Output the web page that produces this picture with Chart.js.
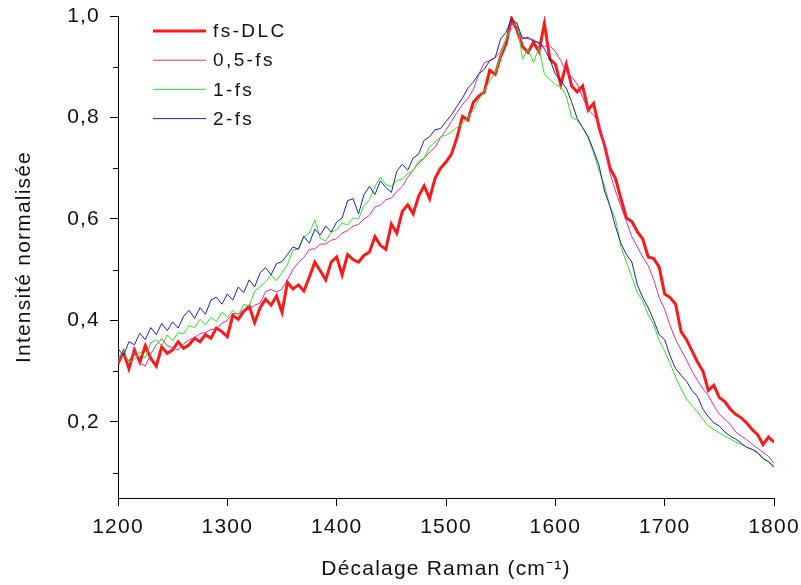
<!DOCTYPE html>
<html><head><meta charset="utf-8">
<script src="https://cdn.jsdelivr.net/npm/chart.js@4"></script>
<style>html,body{margin:0;padding:0;background:#fff}#wrap{width:801px;height:585px}</style>
</head><body><div id="wrap"><canvas id="c" width="801" height="585"></canvas></div>
<script>
// Raman shift grid (cm-1): 1200 to 1800, sampled every 5 cm-1
const ramanStart = 1200, ramanStep = 5;

const seriesLabels = ['fs-DLC', '0,5-fs', '1-fs', '2-fs'];

const fsDLC = [
.315,.338,.305,.342,.318,.350,.325,.310,.348,.335,
.342,.358,.345,.352,.365,.358,.372,.365,.385,.378,
.368,.410,.402,.418,.428,.396,.425,.442,.430,.448,
.416,.475,.462,.470,.458,.485,.515,.498,.480,.515,
.525,.490,.530,.520,.515,.528,.535,.565,.548,.540,
.590,.572,.615,.628,.610,.645,.665,.640,.680,.700,
.712,.728,.760,.802,.795,.830,.842,.850,.893,.885,
.920,.945,.995,.972,.940,.928,.948,.930,.985,.915,
.905,.865,.905,.862,.850,.862,.815,.828,.780,.745,
.700,.680,.640,.602,.595,.575,.560,.525,.522,.505,
.452,.445,.432,.378,.362,.340,.318,.300,.262,.272,
.248,.240,.225,.215,.208,.198,.185,.175,.155,.170,
.160];

const fs05 = [
.318,.334,.320,.338,.316,.310,.334,.352,.364,.350,
.346,.342,.354,.362,.366,.374,.376,.382,.384,.394,
.400,.414,.413,.420,.421,.430,.434,.457,.461,.456,
.462,.480,.500,.514,.524,.540,.541,.550,.551,.558,
.561,.572,.577,.586,.589,.600,.607,.624,.627,.638,
.641,.654,.664,.682,.697,.710,.719,.732,.741,.760,
.775,.792,.810,.825,.838,.855,.885,.908,.912,.918,
.930,.955,.985,.972,.958,.955,.954,.945,.940,.942,
.930,.912,.890,.880,.866,.840,.815,.805,.790,.745,
.690,.655,.625,.595,.565,.545,.525,.508,.480,.445,
.422,.390,.362,.342,.322,.300,.282,.265,.252,.232,
.215,.205,.195,.180,.172,.165,.156,.148,.140,.132,
.118];

const fs1 = [
.325,.340,.318,.322,.338,.326,.356,.362,.350,.372,
.360,.376,.374,.390,.386,.402,.392,.406,.398,.416,
.406,.420,.410,.432,.428,.458,.466,.476,.490,.478,
.494,.510,.538,.542,.565,.572,.598,.562,.556,.574,
.578,.592,.588,.602,.600,.626,.638,.664,.682,.668,
.664,.676,.678,.690,.695,.714,.720,.742,.752,.762,
.765,.772,.780,.788,.800,.815,.835,.852,.872,.888,
.920,.955,.975,.988,.915,.935,.908,.938,.885,.875,
.865,.860,.842,.800,.795,.780,.760,.730,.695,.665,
.625,.600,.545,.515,.485,.455,.438,.410,.392,.360,
.340,.315,.288,.265,.245,.232,.220,.205,.192,.185,
.178,.172,.166,.160,.156,.150,.146,.138,.128,.120,
.110];

const fs2 = [
.345,.330,.358,.352,.375,.362,.386,.372,.394,.380,
.397,.385,.408,.420,.404,.425,.412,.440,.446,.432,
.452,.440,.466,.455,.480,.466,.494,.504,.490,.512,
.516,.530,.545,.540,.566,.552,.580,.568,.586,.574,
.594,.602,.636,.640,.610,.648,.664,.648,.675,.662,
.652,.694,.708,.696,.720,.728,.755,.762,.776,.778,
.792,.805,.822,.838,.858,.870,.886,.895,.912,.918,
.955,.968,.995,.985,.955,.958,.950,.948,.935,.915,
.885,.872,.858,.830,.798,.780,.762,.735,.705,.655,
.625,.585,.552,.530,.515,.470,.445,.425,.400,.372,
.362,.330,.305,.292,.280,.262,.250,.225,.210,.198,
.192,.180,.172,.166,.158,.150,.146,.140,.128,.122,
.112];

const seriesColors = ['#ff1a1a', '#e0308f', '#33dd33', '#2020b0'];
const seriesWidths = [3, 1, 1, 1];
const seriesOrder = [4, 3, 2, 1];

const xTickValues = [1200, 1300, 1400, 1500, 1600, 1700, 1800];
const yTickValues = [0.2, 0.4, 0.6, 0.8, 1.0];
const yTickLabels = ['0,2', '0,4', '0,6', '0,8', '1,0'];
const yMinorTicks = [0.1, 0.3, 0.5, 0.7, 0.9];

const allSeries = [fsDLC, fs05, fs1, fs2];
const toPoints = arr => arr.map((v, i) => ({x: ramanStart + ramanStep * i, y: v}));

const FONT = '"Liberation Sans", Arial, sans-serif';

const spacingPlugin = {
  id: 'spacing',
  beforeInit(chart) { chart.ctx.letterSpacing = '1.2px'; },
  beforeDraw(chart) { chart.ctx.letterSpacing = '1.2px'; }
};

const minorTickPlugin = {
  id: 'minorTicks',
  afterDraw(chart) {
    const ctx = chart.ctx, ys = chart.scales.y;
    ctx.save();
    ctx.strokeStyle = '#000';
    ctx.lineWidth = 1;
    yMinorTicks.forEach(v => {
      const py = Math.round(ys.getPixelForValue(v)) + 0.5;
      ctx.beginPath();
      ctx.moveTo(ys.right - 5, py);
      ctx.lineTo(ys.right, py);
      ctx.stroke();
    });
    ctx.restore();
  }
};

const insideLegend = {
  id: 'insideLegend',
  afterDatasetsDraw(chart) {
    const ctx = chart.ctx, {left, top} = chart.chartArea;
    ctx.save();
    ctx.font = '19px ' + FONT;
    ctx.letterSpacing = '2.4px';
    ctx.textBaseline = 'middle';
    chart.data.datasets.forEach((ds, i) => {
      const y = top + 15 + i * 29.2;
      ctx.strokeStyle = ds.borderColor;
      ctx.lineWidth = ds.borderWidth;
      ctx.beginPath();
      ctx.moveTo(left + 35, y);
      ctx.lineTo(left + 88, y);
      ctx.stroke();
      ctx.fillStyle = '#111';
      ctx.fillText(ds.label, left + 95, y + 1);
    });
    ctx.restore();
  }
};

new Chart(document.getElementById('c'), {
  type: 'line',
  data: {
    datasets: allSeries.map((s, i) => ({
      label: seriesLabels[i],
      data: toPoints(s),
      borderColor: seriesColors[i],
      borderWidth: seriesWidths[i],
      order: seriesOrder[i],
      pointRadius: 0,
      tension: 0,
      fill: false
    }))
  },
  options: {
    responsive: false,
    devicePixelRatio: 1,
    animation: false,
    layout: {padding: {left: 0, top: 16, right: 27, bottom: 0}},
    plugins: {legend: {display: false}, tooltip: {enabled: false}},
    scales: {
      x: {
        type: 'linear', min: 1200, max: 1800,
        afterBuildTicks: s => { s.ticks = xTickValues.map(v => ({value: v})); },
        afterFit: s => { s.height = 87; s.paddingLeft = 0; s.paddingRight = 0; },
        grid: {display: true, drawOnChartArea: false, drawTicks: true, tickLength: 8, tickColor: '#000'},
        border: {display: true, color: '#000', width: 1},
        ticks: {color: '#111', font: {family: FONT, size: 21}, padding: 9, maxRotation: 0,
          callback: v => String(v)},
        title: {display: true, text: 'Décalage Raman (cm⁻¹)', color: '#111',
          font: {family: FONT, size: 21}, padding: {top: 0, bottom: 3}}
      },
      y: {
        type: 'linear', min: 0.05, max: 1.0,
        afterBuildTicks: s => { s.ticks = yTickValues.map(v => ({value: v})); },
        afterFit: s => { s.width = 118; s.paddingTop = 0; s.paddingBottom = 0; },
        grid: {display: true, drawOnChartArea: false, drawTicks: true, tickLength: 8, tickColor: '#000'},
        border: {display: true, color: '#000', width: 1},
        ticks: {color: '#111', font: {family: FONT, size: 21}, padding: 10,
          callback: v => yTickLabels[yTickValues.findIndex(t => Math.abs(t - v) < 1e-6)]},
        title: {display: true, text: 'Intensité normalisée', color: '#111',
          font: {family: FONT, size: 21}, padding: {top: 12, bottom: 0}}
      }
    }
  },
  plugins: [spacingPlugin, minorTickPlugin, insideLegend]
});
</script>
</body></html>
